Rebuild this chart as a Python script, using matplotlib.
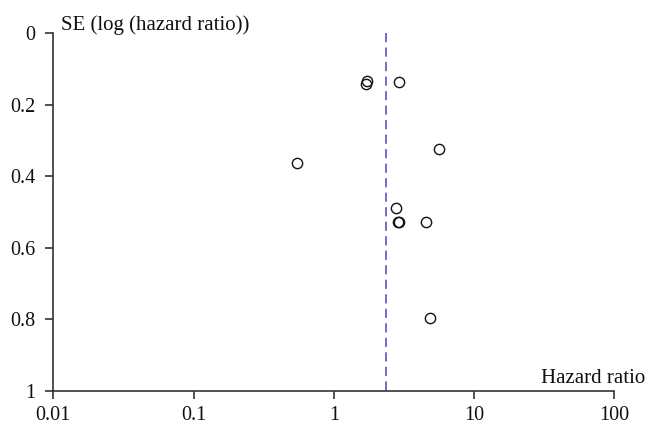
import matplotlib
matplotlib.use("Agg")
import matplotlib.pyplot as plt
import numpy as np

# Data
hazard_ratio = [1.73, 1.70, 2.91, 5.58, 0.551, 2.77, 2.87, 2.92, 4.55, 4.86]
se_log_hr = [0.133, 0.142, 0.136, 0.324, 0.364, 0.489, 0.529, 0.529, 0.529, 0.795]
pooled_hr = 2.35
x_ticks = [0.01, 0.1, 1, 10, 100]
x_tick_labels = ["0.01", "0.1", "1", "10", "100"]
y_ticks = [0, 0.2, 0.4, 0.6, 0.8, 1]
y_tick_labels = ["0", "0.2", "0.4", "0.6", "0.8", "1"]

plt.rcParams['font.family'] = ['Liberation Serif', 'DejaVu Serif']

W, H = 647, 425
fig = plt.figure(figsize=(W / 100, H / 100), dpi=100)
left, right, top, bottom = 53.3, 614.3, 33, 391
ax = fig.add_axes([left / W, 1 - bottom / H, (right - left) / W, (bottom - top) / H])

ax.set_xscale('log')
ax.set_xlim(0.01, 100)
ax.set_ylim(1, 0)

ax.plot([pooled_hr, pooled_hr], [0, 1], color='#4646c8', lw=1.1,
        dashes=(6, 3.5), zorder=1)
ax.plot(hazard_ratio, se_log_hr, linestyle='none', marker='o', markersize=7.4,
        markerfacecolor='none', markeredgecolor='#111111', markeredgewidth=1.0,
        zorder=3, clip_on=False)

for s in ['top', 'right']:
    ax.spines[s].set_visible(False)
for s in ['left', 'bottom']:
    ax.spines[s].set_color('#333333')
    ax.spines[s].set_linewidth(1.2)

ax.set_xticks(x_ticks)
ax.set_xticklabels(x_tick_labels)
ax.xaxis.set_minor_locator(matplotlib.ticker.NullLocator())
ax.set_yticks(y_ticks)
ax.set_yticklabels(y_tick_labels)
ax.tick_params(axis='both', direction='out', length=6, width=1.2, color='#333333',
               labelsize=14.5, labelcolor='#111111')
ax.tick_params(axis='x', pad=5)
ax.tick_params(axis='y', pad=7)

ax.text(61 / W, 1 - 35 / H, "SE (log (hazard ratio))", transform=fig.transFigure,
        ha='left', va='bottom', fontsize=15, color='#111111')
ax.text(645 / W, 1 - 388 / H, "Hazard ratio", transform=fig.transFigure,
        ha='right', va='bottom', fontsize=15, color='#111111')

fig.savefig("out.png", dpi=100)
